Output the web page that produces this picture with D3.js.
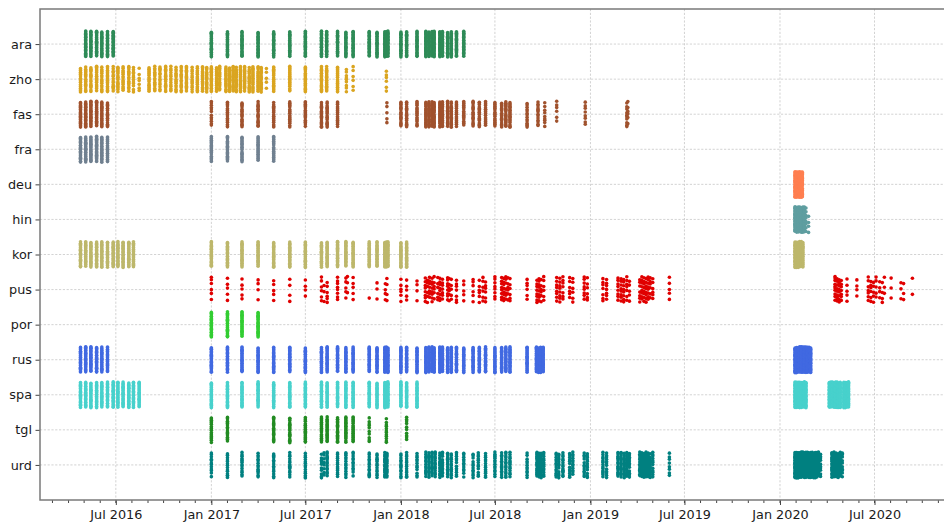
<!DOCTYPE html>
<html>
<head>
<meta charset="utf-8">
<script src="https://cdn.jsdelivr.net/npm/d3@7"></script>
<style>
  body { margin: 0; background: #fff; }
  svg text { font-family: "DejaVu Sans", sans-serif; }
</style>
</head>
<body>
<div id="chart"></div>
<script>
// categories (top to bottom) and their colours
const languages = ["ara", "zho", "fas", "fra", "deu", "hin", "kor", "pus", "por", "rus", "spa", "tgl", "urd"];
const langColors = ["#2e8b57", "#daa520", "#a0522d", "#708090", "#ff7f50", "#5f9ea0", "#bdb76b",
                    "#e00000", "#32cd32", "#4169e1", "#48d1cc", "#228b22", "#008080"];

// [date, number of records on that date]
const ara = [
  ["2016-05-04", 24], ["2016-05-14", 24], ["2016-05-25", 24], ["2016-06-04", 24], ["2016-06-15", 24], ["2016-06-26", 24],
  ["2017-01-01", 24], ["2017-02-01", 24], ["2017-03-01", 24], ["2017-04-01", 24], ["2017-05-01", 24], ["2017-06-01", 24],
  ["2017-07-01", 24], ["2017-08-01", 24], ["2017-08-11", 24], ["2017-09-01", 24], ["2017-09-17", 24], ["2017-10-01", 24],
  ["2017-11-01", 24], ["2017-11-16", 24], ["2017-12-01", 24], ["2017-12-04", 24], ["2017-12-07", 24],
  ["2018-01-01", 24], ["2018-01-12", 24], ["2018-02-01", 24], ["2018-02-18", 24], ["2018-02-24", 24], ["2018-03-02", 24],
  ["2018-03-06", 24], ["2018-03-17", 24], ["2018-03-22", 24], ["2018-04-01", 24], ["2018-04-08", 24], ["2018-04-18", 24],
  ["2018-05-02", 24]
];
const zho = [
  ["2016-04-24", 18], ["2016-05-04", 18], ["2016-05-14", 16], ["2016-05-25", 18], ["2016-06-04", 16], ["2016-06-15", 18],
  ["2016-06-26", 14], ["2016-07-05", 18], ["2016-07-15", 16], ["2016-07-26", 16], ["2016-08-04", 12], ["2016-08-15", 7],
  ["2016-09-03", 18], ["2016-09-14", 16], ["2016-09-24", 14], ["2016-10-05", 18], ["2016-10-15", 14], ["2016-10-25", 16],
  ["2016-11-04", 16], ["2016-11-14", 18], ["2016-11-25", 14], ["2016-12-05", 18], ["2016-12-15", 18], ["2016-12-23", 18],
  ["2017-01-01", 22], ["2017-01-11", 18], ["2017-01-17", 16], ["2017-01-29", 20], ["2017-02-05", 18], ["2017-02-12", 20],
  ["2017-02-18", 18], ["2017-02-26", 20], ["2017-03-06", 20], ["2017-03-15", 18], ["2017-03-22", 20], ["2017-04-01", 20],
  ["2017-04-07", 18], ["2017-04-17", 5], ["2017-05-01", 20], ["2017-06-01", 20], ["2017-07-01", 20], ["2017-08-01", 20],
  ["2017-08-11", 20], ["2017-09-01", 20], ["2017-09-18", 9], ["2017-10-01", 6], ["2017-12-04", 6]
];
const fas = [
  ["2016-04-24", 24], ["2016-05-04", 24], ["2016-05-14", 24], ["2016-05-25", 24], ["2016-06-04", 22], ["2016-06-15", 18],
  ["2017-01-01", 12], ["2017-02-01", 18], ["2017-03-01", 18], ["2017-04-01", 18], ["2017-05-01", 18], ["2017-06-01", 18],
  ["2017-07-01", 18], ["2017-08-01", 18], ["2017-08-12", 18], ["2017-09-01", 18], ["2017-12-05", 5],
  ["2018-01-01", 18], ["2018-01-12", 18], ["2018-02-01", 18], ["2018-02-18", 20], ["2018-02-24", 20], ["2018-03-02", 20],
  ["2018-03-06", 20], ["2018-03-17", 20], ["2018-03-22", 20], ["2018-04-01", 20], ["2018-04-08", 20], ["2018-04-18", 18],
  ["2018-05-02", 18], ["2018-05-20", 18], ["2018-06-01", 18], ["2018-06-13", 18], ["2018-07-01", 18], ["2018-07-14", 18],
  ["2018-07-22", 20], ["2018-07-30", 20], ["2018-09-01", 14], ["2018-09-22", 14], ["2018-10-05", 9], ["2018-10-28", 6],
  ["2018-12-22", 8], ["2019-03-12", 10], ["2019-03-14", 6]
];
const fra = [
  ["2016-04-24", 24], ["2016-05-04", 24], ["2016-05-14", 24], ["2016-05-25", 24], ["2016-06-04", 24], ["2016-06-15", 20],
  ["2017-01-01", 20], ["2017-02-01", 20], ["2017-03-01", 20], ["2017-04-01", 20], ["2017-05-01", 20]
];
const deu = [
  ["2020-01-30", 26], ["2020-02-02", 26], ["2020-02-05", 26], ["2020-02-08", 26], ["2020-02-11", 26], ["2020-02-13", 20]
];
const hin = [
  ["2020-01-30", 26], ["2020-02-02", 26], ["2020-02-05", 26], ["2020-02-08", 26], ["2020-02-11", 26], ["2020-02-14", 24],
  ["2020-02-17", 20], ["2020-02-20", 8], ["2020-02-25", 4]
];
const kor = [
  ["2016-04-24", 24], ["2016-05-04", 24], ["2016-05-14", 24], ["2016-05-25", 24], ["2016-06-04", 24], ["2016-06-15", 24],
  ["2016-06-26", 24], ["2016-07-05", 24], ["2016-07-15", 24], ["2016-07-26", 24], ["2016-08-04", 24],
  ["2017-01-01", 24], ["2017-02-01", 24], ["2017-03-01", 24], ["2017-04-01", 24], ["2017-05-01", 24], ["2017-06-01", 24],
  ["2017-07-01", 24], ["2017-08-01", 24], ["2017-08-12", 24], ["2017-09-01", 24], ["2017-09-17", 24], ["2017-10-01", 24],
  ["2017-11-01", 24], ["2017-11-16", 24], ["2017-12-01", 24], ["2017-12-04", 24], ["2017-12-07", 24],
  ["2018-01-01", 24], ["2018-01-12", 24],
  ["2020-01-30", 26], ["2020-02-02", 26], ["2020-02-05", 26], ["2020-02-08", 26], ["2020-02-11", 26], ["2020-02-14", 22]
];
const pus = [
  ["2017-01-01", 6], ["2017-02-01", 5], ["2017-03-01", 5], ["2017-04-01", 4], ["2017-05-01", 5], ["2017-06-01", 4],
  ["2017-07-01", 4], ["2017-08-01", 6], ["2017-08-06", 3], ["2017-08-12", 6], ["2017-09-01", 8], ["2017-09-17", 5],
  ["2017-09-20", 3], ["2017-10-01", 5], ["2017-11-01", 1], ["2017-11-16", 3], ["2017-12-02", 4], ["2017-12-05", 4],
  ["2018-01-01", 6], ["2018-01-12", 5], ["2018-02-01", 4], ["2018-02-17", 8], ["2018-02-21", 6], ["2018-02-25", 7],
  ["2018-03-02", 8], ["2018-03-06", 6], ["2018-03-13", 6], ["2018-03-17", 8], ["2018-03-22", 7], ["2018-04-01", 8],
  ["2018-04-04", 6], ["2018-04-08", 5], ["2018-04-18", 7], ["2018-05-02", 5], ["2018-05-20", 6], ["2018-06-01", 6],
  ["2018-06-08", 6], ["2018-06-13", 6], ["2018-07-01", 8], ["2018-07-14", 8], ["2018-07-18", 8], ["2018-07-22", 7],
  ["2018-07-26", 6], ["2018-07-30", 6], ["2018-09-01", 6], ["2018-09-20", 8], ["2018-09-24", 8], ["2018-09-28", 6],
  ["2018-10-03", 6], ["2018-10-28", 8], ["2018-11-03", 8], ["2018-11-09", 7], ["2018-11-22", 6], ["2018-11-28", 6],
  ["2018-12-20", 8], ["2018-12-26", 6], ["2019-01-25", 7], ["2019-02-01", 7], ["2019-02-23", 8], ["2019-03-01", 8],
  ["2019-03-06", 8], ["2019-03-12", 7], ["2019-03-17", 5], ["2019-04-06", 7], ["2019-04-10", 8], ["2019-04-14", 8],
  ["2019-04-18", 8], ["2019-04-22", 8], ["2019-04-26", 6], ["2019-05-01", 6], ["2019-06-02", 5],
  ["2020-04-16", 10], ["2020-04-20", 9], ["2020-04-24", 9], ["2020-04-28", 7], ["2020-05-09", 5], ["2020-05-28", 4],
  ["2020-06-19", 7], ["2020-06-24", 6], ["2020-06-29", 5], ["2020-07-04", 5], ["2020-07-11", 4], ["2020-07-16", 4],
  ["2020-07-20", 3], ["2020-08-02", 3], ["2020-08-21", 3], ["2020-08-26", 3], ["2020-09-12", 2]
];
const por = [
  ["2017-01-01", 24], ["2017-02-01", 24], ["2017-03-01", 24], ["2017-04-01", 24]
];
const rus = [
  ["2016-04-24", 24], ["2016-05-04", 24], ["2016-05-14", 24], ["2016-05-25", 24], ["2016-06-04", 24], ["2016-06-15", 22],
  ["2017-01-01", 24], ["2017-02-01", 24], ["2017-03-01", 24], ["2017-04-01", 24], ["2017-05-01", 24], ["2017-06-01", 24],
  ["2017-07-01", 24], ["2017-08-01", 24], ["2017-08-12", 24], ["2017-09-01", 24], ["2017-09-17", 24], ["2017-10-01", 24],
  ["2017-11-01", 24], ["2017-11-16", 24], ["2017-12-01", 24], ["2017-12-04", 24], ["2017-12-07", 24],
  ["2018-01-01", 24], ["2018-01-12", 24], ["2018-02-01", 24], ["2018-02-18", 24], ["2018-02-24", 24], ["2018-03-02", 24],
  ["2018-03-06", 24], ["2018-03-17", 24], ["2018-03-22", 24], ["2018-04-01", 24], ["2018-04-08", 24], ["2018-04-18", 24],
  ["2018-05-02", 24], ["2018-05-20", 24], ["2018-06-01", 24], ["2018-06-13", 24], ["2018-07-01", 24], ["2018-07-14", 24],
  ["2018-07-22", 24], ["2018-07-30", 24], ["2018-09-01", 24], ["2018-09-19", 24], ["2018-09-23", 24], ["2018-09-27", 24],
  ["2018-10-02", 24],
  ["2020-01-30", 26], ["2020-02-02", 26], ["2020-02-05", 26], ["2020-02-08", 26], ["2020-02-11", 26], ["2020-02-14", 26],
  ["2020-02-17", 26], ["2020-02-20", 26], ["2020-02-23", 26], ["2020-02-26", 26], ["2020-02-29", 26]
];
const spa = [
  ["2016-04-24", 24], ["2016-05-04", 24], ["2016-05-14", 24], ["2016-05-25", 24], ["2016-06-04", 24], ["2016-06-15", 24],
  ["2016-06-26", 24], ["2016-07-05", 24], ["2016-07-15", 24], ["2016-07-26", 24], ["2016-08-04", 24], ["2016-08-15", 24],
  ["2017-01-01", 24], ["2017-02-01", 24], ["2017-03-01", 24], ["2017-04-01", 24], ["2017-05-01", 24], ["2017-06-01", 24],
  ["2017-07-01", 24], ["2017-08-01", 24], ["2017-08-12", 24], ["2017-09-01", 24], ["2017-09-17", 24], ["2017-10-01", 24],
  ["2017-11-01", 24], ["2017-11-16", 24], ["2017-12-01", 24], ["2017-12-04", 24], ["2017-12-07", 24],
  ["2018-01-01", 24], ["2018-01-12", 24], ["2018-02-01", 24],
  ["2020-01-30", 26], ["2020-02-02", 26], ["2020-02-05", 26], ["2020-02-08", 26], ["2020-02-11", 26], ["2020-02-14", 26],
  ["2020-02-17", 26], ["2020-02-20", 22],
  ["2020-04-05", 26], ["2020-04-08", 26], ["2020-04-11", 26], ["2020-04-14", 26], ["2020-04-17", 26], ["2020-04-20", 26],
  ["2020-04-23", 26], ["2020-04-26", 26], ["2020-05-03", 26], ["2020-05-06", 26], ["2020-05-09", 26], ["2020-05-12", 22]
];
const tgl = [
  ["2017-01-01", 18], ["2017-02-01", 16], ["2017-05-01", 18], ["2017-06-01", 18], ["2017-07-01", 20], ["2017-08-01", 20],
  ["2017-08-12", 20], ["2017-09-01", 20], ["2017-09-17", 20], ["2017-10-01", 20], ["2017-11-01", 10], ["2017-12-04", 12],
  ["2018-01-12", 10]
];
const urd = [
  ["2017-01-01", 12], ["2017-02-01", 14], ["2017-03-01", 14], ["2017-04-01", 14], ["2017-05-01", 14], ["2017-06-01", 14],
  ["2017-07-01", 14], ["2017-08-01", 10], ["2017-08-06", 8], ["2017-08-12", 14], ["2017-09-01", 14], ["2017-09-17", 14],
  ["2017-10-01", 12], ["2017-11-01", 14], ["2017-11-16", 14], ["2017-12-01", 16], ["2017-12-05", 16],
  ["2018-01-01", 14], ["2018-01-12", 14], ["2018-02-01", 12], ["2018-02-18", 14], ["2018-02-24", 14], ["2018-03-02", 14],
  ["2018-03-08", 14], ["2018-03-17", 14], ["2018-03-22", 12], ["2018-04-01", 14], ["2018-04-08", 14], ["2018-04-18", 12],
  ["2018-05-02", 12], ["2018-05-20", 12], ["2018-05-30", 12], ["2018-06-13", 14], ["2018-07-01", 14], ["2018-07-14", 14],
  ["2018-07-22", 14], ["2018-07-30", 14], ["2018-09-01", 12], ["2018-09-20", 18], ["2018-09-24", 18], ["2018-09-28", 18],
  ["2018-10-03", 14], ["2018-10-27", 14], ["2018-11-01", 12], ["2018-11-09", 14], ["2018-11-22", 12], ["2018-11-28", 12],
  ["2018-12-20", 12], ["2018-12-26", 12], ["2019-01-25", 14], ["2019-02-01", 12], ["2019-02-23", 16], ["2019-03-01", 16],
  ["2019-03-07", 14], ["2019-03-12", 14], ["2019-03-17", 12], ["2019-04-06", 14], ["2019-04-10", 16], ["2019-04-14", 16],
  ["2019-04-18", 16], ["2019-04-22", 14], ["2019-04-26", 12], ["2019-05-01", 12], ["2019-06-02", 8],
  ["2020-01-30", 26], ["2020-02-02", 26], ["2020-02-05", 26], ["2020-02-08", 26], ["2020-02-11", 26], ["2020-02-14", 26],
  ["2020-02-17", 26], ["2020-02-20", 26], ["2020-02-23", 26], ["2020-02-26", 26], ["2020-02-29", 26], ["2020-03-03", 24],
  ["2020-03-06", 22], ["2020-03-09", 20], ["2020-03-12", 18], ["2020-03-15", 14], ["2020-03-19", 10],
  ["2020-04-10", 16], ["2020-04-14", 18], ["2020-04-18", 18], ["2020-04-22", 16], ["2020-04-26", 14], ["2020-04-30", 10]
];

const series = { ara, zho, fas, fra, deu, hin, kor, pus, por, rus, spa, tgl, urd };

const width = 944;
const height = 522;
const plot = { left: 40, top: 9, right: 955, bottom: 500 };
const parseDate = d3.timeParse("%Y-%m-%d");

const svg = d3.select("#chart")
    .append("svg")
    .attr("width", width)
    .attr("height", height);

const x = d3.scaleTime()
    .domain([new Date(2016, 1, 6), new Date(2020, 11, 3)])
    .range([plot.left, plot.right]);

const y = d3.scalePoint()
    .domain(languages)
    .range([plot.top, plot.bottom])
    .padding(1);

const color = d3.scaleOrdinal().domain(languages).range(langColors);

// grid
const majorTicks = x.ticks(d3.timeMonth.every(6));
svg.append("g").selectAll("line").data(majorTicks)
    .enter().append("line")
    .attr("x1", d => x(d)).attr("x2", d => x(d))
    .attr("y1", plot.top).attr("y2", plot.bottom)
    .attr("stroke", "#c8c8c8").attr("stroke-width", 0.8)
    .attr("stroke-dasharray", "2.2,1.6");
svg.append("g").selectAll("line").data(languages)
    .enter().append("line")
    .attr("x1", plot.left).attr("x2", plot.right)
    .attr("y1", d => y(d)).attr("y2", d => y(d))
    .attr("stroke", "#c8c8c8").attr("stroke-width", 0.8)
    .attr("stroke-dasharray", "2.2,1.6");

// points: each date gets its records spread over the category band
const spread = 0.37 * y.step();
const points = [];
languages.forEach(lang => {
    series[lang].forEach(([date, n], si) => {
        const seed = (si * 0.4142 + languages.indexOf(lang) * 0.29) % 1;
        for (let i = 0; i < n; i++) {
            const u = (seed + i * 0.618034) % 1;
            points.push({ lang, date: parseDate(date), dy: (u - 0.5) * 2 * spread });
        }
    });
});

svg.append("g").selectAll("circle").data(points)
    .enter().append("circle")
    .attr("cx", d => x(d.date))
    .attr("cy", d => y(d.lang) + d.dy)
    .attr("r", 1.8)
    .attr("fill", d => color(d.lang));

// axes
const xAxis = d3.axisBottom(x)
    .ticks(d3.timeMonth.every(6))
    .tickFormat(d3.timeFormat("%b %Y"))
    .tickSize(5)
    .tickPadding(4.5);
const gx = svg.append("g")
    .attr("transform", "translate(0," + plot.bottom + ")")
    .call(xAxis);

const minor = x.ticks(d3.timeMonth.every(1));
gx.selectAll(".minor").data(minor)
    .enter().append("line")
    .attr("class", "minor")
    .attr("x1", d => x(d)).attr("x2", d => x(d))
    .attr("y1", 0).attr("y2", 3)
    .attr("stroke", "#444");

const yAxis = d3.axisLeft(y).tickSize(4.5).tickPadding(3.5);
const gy = svg.append("g")
    .attr("transform", "translate(" + plot.left + ",0)")
    .call(yAxis);

[gx, gy].forEach(g => {
    g.select(".domain").remove();
    g.selectAll(".tick line").attr("stroke", "#444");
    g.selectAll("text").attr("font-size", "12.8px").attr("fill", "#1a1a1a")
        .style("font-family", "'DejaVu Sans', sans-serif");
});

// frame
svg.append("rect")
    .attr("x", plot.left).attr("y", plot.top)
    .attr("width", plot.right - plot.left)
    .attr("height", plot.bottom - plot.top)
    .attr("fill", "none")
    .attr("stroke", "#7a7a7a")
    .attr("stroke-width", 1.5);
</script>
</body>
</html>
